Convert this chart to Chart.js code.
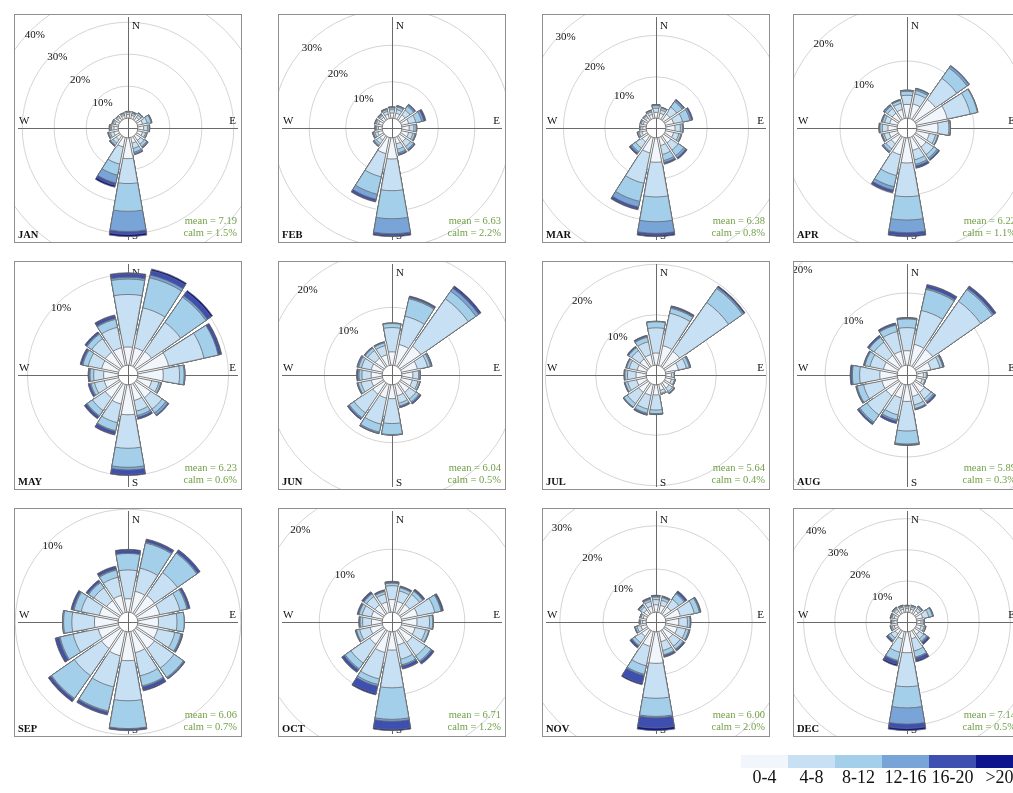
<!DOCTYPE html>
<html>
<head>
<meta charset="utf-8">
<script src="https://cdn.jsdelivr.net/npm/chart.js"></script>
<style>
  html, body { margin: 0; padding: 0; background: #fff; }
  body { width: 1013px; height: 793px; overflow: hidden; position: relative;
         font-family: "Liberation Serif", "Times New Roman", serif; }
  .panel { position: absolute; width: 228px; height: 229px; box-sizing: border-box;
           border: 1px solid #8f8f8f; overflow: hidden; background: #fff; }
  .panel canvas { position: absolute; left: 0; top: 0; }
  .month { position: absolute; left: 3px; bottom: 2px; font-weight: bold;
           font-size: 10.5px; line-height: 11px; color: #111; white-space: nowrap; }
  .stats { position: absolute; right: 4px; bottom: 3px; font-size: 10.5px;
           line-height: 12px; color: #72a048; text-align: right; white-space: nowrap; }
  .key { position: absolute; top: 755px; width: 47px; height: 13px; }
  .keylab { position: absolute; top: 768px; width: 47px; text-align: center;
            font-size: 18px; line-height: 18px; color: #111; white-space: nowrap; }
</style>
</head>
<body>
<script>
// Wind direction sectors, clockwise from north
const DIRECTIONS = ['N','NNE','NE','ENE','E','ESE','SE','SSE','S','SSW','SW','WSW','W','WNW','NW','NNW'];
// Wind speed classes (m/s)
const SPEED_BINS = ['0-4','4-8','8-12','12-16','16-20','>20'];
const MONTHS = ['JAN','FEB','MAR','APR','MAY','JUN','JUL','AUG','SEP','OCT','NOV','DEC'];
const MEAN_SPEED = ['7.19','6.63','6.38','6.22','6.23','6.04','5.64','5.89','6.06','6.71','6.00','7.14'];
const CALM_PCT = ['1.5','2.2','0.8','1.1','0.6','0.5','0.4','0.3','0.7','1.2','2.0','0.5'];
// Percentage rings shown on each rose
const RING_TICKS = [
  [10,20,30,40],[10,20,30],[10,20,30],[10,20],
  [10],[10,20],[10,20],[10,20],
  [10],[10,20],[10,20,30],[10,20,30,40]
];

// Frequency (%) per speed class (rows) and direction (columns)
const FREQ_JAN = [
  [1.1,1.0,1.2,1.6,1.8,1.6,1.8,1.8,6.5,3.0,1.5,1.5,1.3,1.1,1.0,1.0],
  [0.6,0.6,0.8,1.5,1.2,1.0,1.4,1.7,7.8,5.5,1.3,1.1,0.8,0.6,0.5,0.5],
  [0.3,0.3,0.5,1.2,0.5,0.4,0.9,1.2,8.7,3.5,0.7,0.5,0.4,0.3,0.2,0.2],
  [0.1,0.1,0.1,0.2,0.2,0.1,0.3,0.5,6.3,2.5,0.3,0.2,0.2,0.1,0.1,0.1],
  [0,0.1,0.1,0.1,0,0,0.2,0.2,0.9,0.8,0.2,0.1,0.1,0,0,0],
  [0,0,0,0,0,0,0,0.1,0.7,0.6,0,0,0,0,0,0]
];
const FREQ_FEB = [
  [1.4,1.5,1.8,2.0,2.0,2.0,2.0,1.8,5.8,4.5,1.5,1.3,1.0,1.1,1.0,1.2],
  [0.9,1.0,1.6,2.0,1.3,1.2,1.6,1.5,8.7,6.5,1.1,0.8,0.5,0.6,0.6,0.8],
  [0.5,0.7,1.2,1.6,0.6,0.6,0.9,1.0,7.7,4.9,0.6,0.4,0.3,0.3,0.3,0.5],
  [0.2,0.3,0.4,0.6,0.2,0.2,0.3,0.4,4.1,1.4,0.3,0.2,0.1,0.1,0.2,0.2],
  [0.1,0.1,0.2,0.4,0,0.1,0.2,0.2,0.5,0.6,0.1,0.1,0.1,0.1,0.1,0.1],
  [0,0,0,0.2,0,0,0,0.1,0.3,0.2,0,0,0,0,0,0]
];
const FREQ_MAR = [
  [1.4,1.3,1.8,2.0,2.2,2.0,2.1,2.0,5.9,3.8,1.8,1.1,0.8,0.8,0.8,1.0],
  [1.0,0.8,2.0,2.2,1.3,1.3,2.1,2.2,8.4,7.5,1.8,0.7,0.5,0.5,0.5,0.6],
  [0.6,0.5,1.6,1.8,0.5,0.5,1.6,1.5,6.0,4.5,1.1,0.3,0.2,0.2,0.2,0.3],
  [0.2,0.1,0.4,0.4,0.2,0.2,0.6,0.5,2.8,1.4,0.4,0.1,0.1,0.1,0.1,0.1],
  [0.1,0.1,0.2,0.3,0,0,0.3,0.3,0.5,0.5,0.3,0.1,0,0,0,0.1],
  [0,0,0,0,0,0,0.1,0.1,0.3,0.2,0.1,0,0,0,0,0]
];
const FREQ_APR = [
  [2.4,2.6,4.4,5.5,3.7,2.3,2.4,2.3,4.4,3.1,1.7,1.5,1.6,1.4,1.5,1.6],
  [1.6,1.8,4.5,4.1,1.9,1.1,1.6,1.7,5.9,3.7,1.1,0.9,1.0,0.9,1.0,1.1],
  [0.7,0.6,2.2,1.3,0.2,0.4,0.7,0.8,4.1,2.0,0.5,0.3,0.4,0.4,0.5,0.5],
  [0.2,0.3,0.4,0.1,0.1,0.1,0.3,0.3,2.2,0.6,0.2,0.1,0.1,0.1,0.2,0.1],
  [0,0.1,0.1,0,0,0,0.2,0.3,0.5,0.4,0.1,0.1,0.1,0.1,0.1,0.1],
  [0,0,0,0,0,0,0,0.1,0.2,0.1,0,0,0,0,0,0]
];
const FREQ_MAY = [
  [2.0,2.0,2.1,3.5,2.8,1.6,2.0,1.8,3.3,2.2,2.0,1.6,1.6,1.9,2.0,2.0],
  [5.8,4.5,3.9,4.0,1.8,0.8,1.5,1.2,3.7,2.1,1.7,1.1,1.1,1.5,1.8,2.3],
  [1.7,3.4,3.4,1.6,0.5,0.2,0.5,0.5,2.1,0.9,0.7,0.4,0.4,0.6,0.6,0.9],
  [0.2,0.3,0.2,0,0.1,0.1,0.3,0.2,0.3,0.1,0.1,0.1,0.1,0.1,0.1,0.1],
  [0.4,0.5,0.5,0.3,0,0,0.1,0.2,0.5,0.3,0.2,0.2,0.1,0.2,0.2,0.3],
  [0.1,0.2,0.2,0.1,0,0,0,0,0.1,0.1,0.1,0,0,0,0,0.1]
];
const FREQ_JUN = [
  [2.3,3.7,4.4,2.8,1.9,1.9,2.0,2.0,2.4,2.4,2.4,2.0,1.9,2.0,1.9,1.9],
  [4.2,5.0,10.0,1.8,1.0,1.0,1.4,1.3,4.3,4.6,3.9,1.8,1.6,1.7,1.6,1.6],
  [0.7,3.1,1.6,0.5,0.2,0.3,0.6,0.5,1.9,1.4,1.0,0.5,0.5,0.5,0.5,0.5],
  [0.1,0.2,0.6,0.2,0.1,0.1,0.2,0.1,0.1,0.2,0.2,0.1,0.2,0.2,0.1,0.1],
  [0,0.2,0.3,0.1,0,0,0.2,0.2,0,0.1,0.2,0.1,0.2,0.1,0.1,0.1],
  [0,0.1,0.2,0,0,0,0,0,0,0,0,0,0,0,0,0]
];
const FREQ_JUL = [
  [2.4,4.0,3.8,2.6,1.1,1.2,1.3,1.2,2.0,2.2,2.3,2.0,2.0,1.9,2.0,2.2],
  [5.0,6.6,11.8,1.6,0.5,0.6,0.8,0.6,3.0,2.8,2.7,1.8,1.7,1.6,2.0,2.6],
  [1.2,1.0,3.4,0.6,0.1,0.1,0.3,0.2,0.7,0.8,0.8,0.5,0.5,0.5,0.7,0.9],
  [0.1,0.2,0.3,0.2,0,0.1,0.1,0,0.1,0.2,0.1,0.1,0.1,0.1,0.1,0.2],
  [0,0.2,0.1,0.1,0,0,0.1,0,0.1,0.2,0.1,0.1,0.1,0.1,0.2,0.2],
  [0,0.1,0.2,0,0,0,0,0,0,0,0,0,0,0,0,0]
];
const FREQ_AUG = [
  [2.0,3.0,3.0,2.0,0.9,0.8,1.6,1.7,2.3,1.9,2.2,2.2,2.4,2.0,2.0,2.0],
  [3.2,4.8,8.1,1.3,0.4,0.4,1.1,1.2,4.1,2.4,3.2,2.6,2.8,1.9,2.2,2.8],
  [1.2,3.0,2.0,0.4,0.1,0.1,0.4,0.5,1.8,0.7,1.2,0.9,1.0,0.7,0.8,0.9],
  [0.1,0.2,0.2,0.1,0,0,0.2,0.1,0.1,0.2,0.2,0.1,0.1,0.1,0.1,0.1],
  [0.1,0.4,0.3,0.1,0,0,0.2,0.1,0.1,0.3,0.2,0.1,0.2,0.1,0.2,0.2],
  [0,0.1,0.1,0,0,0,0,0,0,0,0,0,0,0,0,0]
];
const FREQ_SEP = [
  [1.3,2.1,2.2,2.2,2.0,2.0,2.2,2.1,2.8,2.4,2.2,2.0,2.3,1.9,1.6,1.7],
  [2.8,2.3,2.7,2.0,1.8,1.7,2.3,2.3,3.9,3.1,3.2,2.5,2.2,1.8,1.5,1.8],
  [1.6,2.5,2.3,0.7,0.7,0.6,1.1,1.0,2.7,2.4,2.7,1.3,0.8,0.7,0.6,0.7],
  [0,0.1,0.1,0.1,0,0.1,0.1,0.1,0,0.1,0.1,0.1,0.1,0.1,0.1,0.1],
  [0.3,0.25,0.25,0.2,0,0.1,0.1,0.3,0.15,0.25,0.2,0.3,0,0.2,0.2,0.2],
  [0.1,0.05,0.05,0,0,0,0,0.1,0.05,0.05,0.1,0.1,0,0,0,0.1]
];
const FREQ_OCT = [
  [2.0,1.8,1.9,2.6,2.4,2.2,2.4,2.2,2.9,3.4,2.8,2.0,1.7,1.8,1.8,1.7],
  [2.2,1.7,1.9,2.8,2.0,1.7,2.6,2.3,6.0,4.3,3.6,1.7,1.4,1.5,1.6,1.3],
  [0.4,0.5,0.6,1.0,0.5,0.5,1.0,0.9,5.0,0.9,1.1,0.5,0.4,0.5,0.5,0.4],
  [0.1,0.1,0.1,0.1,0.1,0.1,0.2,0.2,0.3,0.3,0.2,0.1,0.1,0.1,0.1,0.1],
  [0.1,0.1,0.2,0.2,0,0,0.3,0.4,1.3,1.2,0.4,0.1,0.1,0.1,0.2,0.1],
  [0.1,0.1,0.1,0.1,0,0,0.1,0.1,0.2,0.2,0.1,0,0,0.1,0.1,0.1]
];
const FREQ_NOV = [
  [1.7,1.7,2.0,3.5,3.0,2.8,2.5,2.4,7.3,3.5,1.9,1.3,0.8,0.8,1.2,1.5],
  [1.2,1.2,2.2,3.3,2.0,2.0,2.1,2.1,8.1,4.6,1.8,0.9,0.5,0.5,0.9,1.1],
  [0.6,0.6,1.5,1.2,0.6,0.7,0.8,1.0,4.2,2.0,0.7,0.4,0.2,0.2,0.4,0.5],
  [0.2,0.2,0.3,0.2,0.1,0.2,0.2,0.2,0.3,0.3,0.2,0.1,0.1,0.1,0.1,0.2],
  [0.2,0.2,0.4,0.1,0.1,0.1,0.3,0.3,2.4,1.9,0.4,0.1,0,0,0.2,0.2],
  [0,0,0.1,0.1,0,0,0,0.1,0.6,0.3,0.1,0,0,0,0,0]
];
const FREQ_DEC = [
  [1.1,1.1,1.4,2.0,1.3,1.5,1.8,2.4,6.7,2.4,1.6,1.1,1.0,1.1,1.2,1.1],
  [0.6,0.7,0.9,2.0,0.7,1.0,1.7,4.0,10.9,4.4,1.6,0.7,0.6,0.7,0.8,0.7],
  [0.3,0.4,0.5,1.2,0.3,0.4,1.0,2.0,6.8,2.7,0.9,0.4,0.2,0.3,0.4,0.3],
  [0.1,0.1,0.2,0.2,0.1,0.1,0.4,0.3,5.2,0.3,0.3,0.1,0.1,0.1,0.1,0.1],
  [0.1,0.1,0.1,0.1,0,0.1,0.5,0.8,1.4,1.0,0.4,0.1,0.1,0.2,0.2,0.2],
  [0,0,0,0,0,0,0.3,0.4,0.7,0.5,0.1,0,0,0,0,0]
];
const FREQ = [FREQ_JAN, FREQ_FEB, FREQ_MAR, FREQ_APR, FREQ_MAY, FREQ_JUN,
              FREQ_JUL, FREQ_AUG, FREQ_SEP, FREQ_OCT, FREQ_NOV, FREQ_DEC];

// Styling
const BIN_COLOURS = ['#f1f6fd', '#c8e0f4', '#a3cfeb', '#78a4d8', '#3d50b2', '#0c158c'];
const EDGE_COLOUR = '#6a6a6a';
const EDGE_WIDTH = 0.8;
const WEDGE_DEG = 20;     // angular width of one direction bar
const GAP_DEG = 2.5;      // empty slot between neighbouring bars
const GAP_MIN_PX = 1.8;   // gaps never get narrower than this near the centre
const PANEL_LEFT = [14, 278, 542, 793];
const PANEL_TOP = [14, 261, 508];
const CANVAS_W = 226, CANVAS_H = 227;
const AXIS_COLOUR = '#6a6a6a';
const LABEL_FONT = '11px "Liberation Serif"';

// Compass axes, compass letters, ring labels, bar gaps and the centre hole
const roseDecor = {
  id: 'roseDecor',
  beforeDatasetsDraw(chart, args, opts) {
    const s = chart.scales.r, ctx = chart.ctx;
    const cx = s.xCenter, cy = s.yCenter, W = chart.width, H = chart.height;
    ctx.save();
    ctx.strokeStyle = AXIS_COLOUR;
    ctx.lineWidth = 1;
    ctx.beginPath();
    ctx.moveTo(3, cy + 0.5); ctx.lineTo(W - 3, cy + 0.5);
    ctx.moveTo(cx + 0.5, 2); ctx.lineTo(cx + 0.5, H - 2);
    ctx.stroke();

    ctx.fillStyle = '#111';
    ctx.font = LABEL_FONT;
    ctx.textBaseline = 'alphabetic';
    ctx.textAlign = 'left';
    ctx.fillText('N', cx + 4, 13.5);
    ctx.fillText('S', cx + 4, H - 3.5);
    ctx.fillText('W', 4, cy - 4);
    ctx.textAlign = 'right';
    ctx.fillText('E', W - 5, cy - 4);

    ctx.textAlign = 'center';
    ctx.textBaseline = 'middle';
    (opts.rings || []).forEach(v => {
      const d = (s.getDistanceFromCenterForValue(v) - 6) / Math.SQRT2;
      const x = cx - d, y = cy - d;
      const t = v + '%';
      const w = ctx.measureText(t).width;
      if (x - w / 2 >= -3 && y - 5 >= 0) ctx.fillText(t, x, y);
    });
    ctx.restore();
  },
  afterDatasetsDraw(chart) {
    const s = chart.scales.r, ctx = chart.ctx;
    const cx = s.xCenter, cy = s.yCenter;
    const r0 = s.getDistanceFromCenterForValue(0);
    const outer = chart.getDatasetMeta(chart.data.datasets.length - 1).data;
    const n = outer.length;
    ctx.save();
    // keep the gaps between neighbouring bars open close to the centre
    for (let k = 1; k < n; k += 2) {
      const gap = outer[k], a = outer[k - 1], b = outer[(k + 1) % n];
      const span = gap.endAngle - gap.startAngle;
      const rEnd = Math.min(a.outerRadius, b.outerRadius, GAP_MIN_PX / span);
      if (rEnd <= r0) continue;
      const th = (gap.startAngle + gap.endAngle) / 2;
      const ux = Math.cos(th), uy = Math.sin(th);
      const hw = GAP_MIN_PX / 2, nx = -uy * hw, ny = ux * hw;
      const p1 = [cx + ux * r0 + nx, cy + uy * r0 + ny];
      const p2 = [cx + ux * rEnd + nx, cy + uy * rEnd + ny];
      const p3 = [cx + ux * rEnd - nx, cy + uy * rEnd - ny];
      const p4 = [cx + ux * r0 - nx, cy + uy * r0 - ny];
      ctx.beginPath();
      ctx.moveTo(p1[0], p1[1]); ctx.lineTo(p2[0], p2[1]);
      ctx.lineTo(p3[0], p3[1]); ctx.lineTo(p4[0], p4[1]);
      ctx.closePath();
      ctx.fillStyle = '#fff';
      ctx.fill();
      ctx.beginPath();
      ctx.moveTo(p1[0], p1[1]); ctx.lineTo(p2[0], p2[1]);
      ctx.moveTo(p4[0], p4[1]); ctx.lineTo(p3[0], p3[1]);
      ctx.strokeStyle = EDGE_COLOUR;
      ctx.lineWidth = EDGE_WIDTH;
      ctx.stroke();
    }
    // centre hole with the compass cross
    ctx.beginPath();
    ctx.arc(cx, cy, r0, 0, Math.PI * 2);
    ctx.fillStyle = '#fff';
    ctx.fill();
    ctx.lineWidth = EDGE_WIDTH;
    ctx.strokeStyle = EDGE_COLOUR;
    ctx.stroke();
    ctx.beginPath();
    ctx.moveTo(cx - r0, cy + 0.5); ctx.lineTo(cx + r0, cy + 0.5);
    ctx.moveTo(cx + 0.5, cy - r0); ctx.lineTo(cx + 0.5, cy + r0);
    ctx.strokeStyle = AXIS_COLOUR;
    ctx.lineWidth = 1;
    ctx.stroke();
    ctx.restore();
  }
};

function buildRose(i) {
  const bins = FREQ[i];
  // cumulative frequency per direction, one row per speed class
  const cum = [];
  let running = DIRECTIONS.map(() => 0);
  bins.forEach(row => {
    running = running.map((v, d) => v + row[d]);
    cum.push(running);
  });
  const peak = Math.max(...cum[cum.length - 1]);
  const hole = peak * 0.1;

  const labels = [];
  DIRECTIONS.forEach(d => labels.push(d, ''));

  const datasets = cum.map((row, j) => ({
    label: SPEED_BINS[j],
    data: row.flatMap(v => [v, 0]),
    backgroundColor: c => (c.dataIndex % 2 ? 'rgba(0,0,0,0)' : BIN_COLOURS[j]),
    borderColor: EDGE_COLOUR,
    borderWidth: c => (c.dataIndex % 2 ? 0 : EDGE_WIDTH),
    angle: c => (c.dataIndex % 2 ? GAP_DEG : WEDGE_DEG)
  }));

  const panel = document.createElement('div');
  panel.className = 'panel';
  panel.style.left = PANEL_LEFT[i % 4] + 'px';
  panel.style.top = PANEL_TOP[Math.floor(i / 4)] + 'px';
  const canvas = document.createElement('canvas');
  canvas.width = CANVAS_W; canvas.height = CANVAS_H;
  canvas.style.width = CANVAS_W + 'px'; canvas.style.height = CANVAS_H + 'px';
  panel.appendChild(canvas);

  const month = document.createElement('div');
  month.className = 'month';
  month.textContent = MONTHS[i];
  panel.appendChild(month);

  const stats = document.createElement('div');
  stats.className = 'stats';
  stats.innerHTML = 'mean = ' + MEAN_SPEED[i] + '<br>calm = ' + CALM_PCT[i] + '%';
  panel.appendChild(stats);
  document.body.appendChild(panel);

  const rings = RING_TICKS[i];
  new Chart(canvas, {
    type: 'polarArea',
    data: { labels, datasets },
    options: {
      responsive: false,
      animation: false,
      events: [],
      layout: { padding: 0 },
      plugins: {
        legend: { display: false },
        tooltip: { enabled: false },
        roseDecor: { rings }
      },
      scales: {
        r: {
          min: -hole,
          max: peak * 1.144 - hole,
          startAngle: -WEDGE_DEG / 2,
          ticks: { display: false },
          pointLabels: { display: false },
          angleLines: { display: false },
          grid: { circular: true, color: '#d4d4d4', lineWidth: 1 },
          afterBuildTicks: scale => {
            scale.ticks = [{ value: -hole }].concat(rings.map(v => ({ value: v })));
          }
        }
      }
    },
    plugins: [roseDecor]
  });
}

MONTHS.forEach((m, i) => buildRose(i));

// Speed class key
const KEY_LEFT = 741, KEY_STEP = 47;
SPEED_BINS.forEach((lab, j) => {
  const box = document.createElement('div');
  box.className = 'key';
  box.style.left = (KEY_LEFT + j * KEY_STEP) + 'px';
  box.style.background = BIN_COLOURS[j];
  document.body.appendChild(box);
  const t = document.createElement('div');
  t.className = 'keylab';
  t.style.left = (KEY_LEFT + j * KEY_STEP) + 'px';
  t.textContent = lab;
  document.body.appendChild(t);
});
</script>
</body>
</html>
